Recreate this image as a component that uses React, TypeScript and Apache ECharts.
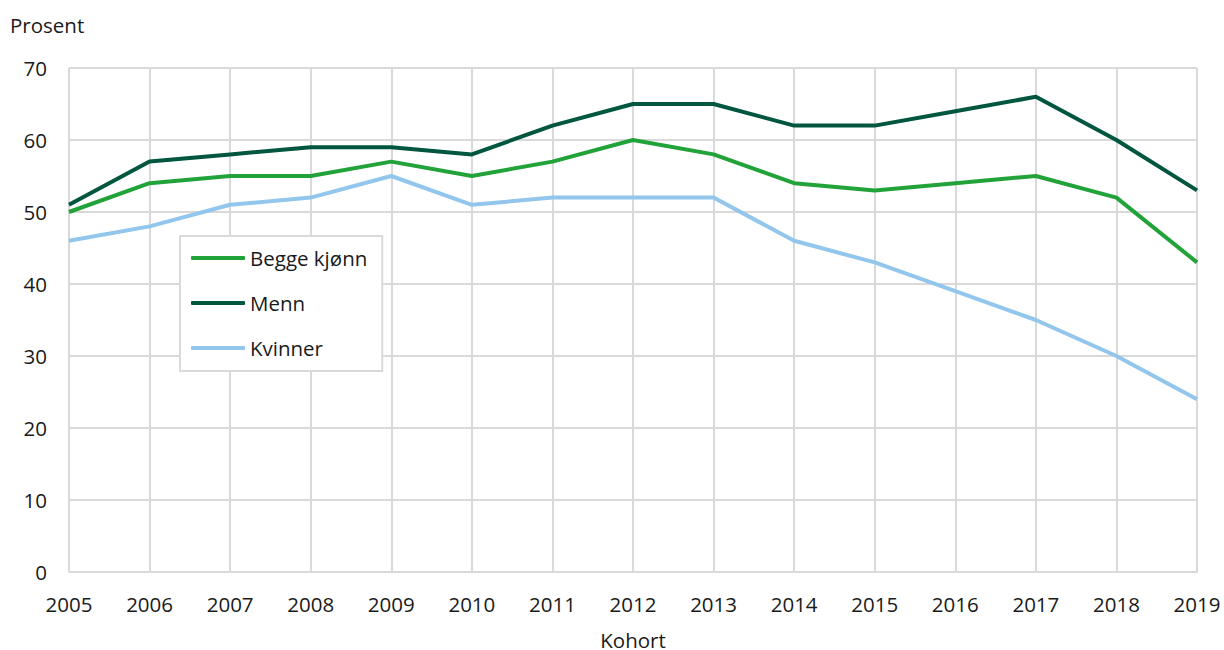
import React, { useEffect, useRef } from "react";
import * as echarts from "echarts";

const categories = ["2005","2006","2007","2008","2009","2010","2011","2012","2013","2014","2015","2016","2017","2018","2019"];
const beggeKjonn = [50, 54, 55, 55, 57, 55, 57, 60, 58, 54, 53, 54, 55, 52, 43];
const menn = [51, 57, 58, 59, 59, 58, 62, 65, 65, 62, 62, 64, 66, 60, 53];
const kvinner = [46, 48, 51, 52, 55, 51, 52, 52, 52, 46, 43, 39, 35, 30, 24];

const FONT = "'Open Sans', sans-serif";
const TEXT = "#1a1a1a";
const GRID = "#d9d9d9";
const FS = 20.5;

export default function App() {
  const ref = useRef<HTMLDivElement>(null);
  useEffect(() => {
    if (!ref.current) return;
    const chart = echarts.init(ref.current, undefined, { renderer: "svg" });
    const mk = (name: string, data: number[], color: string) => ({
      name,
      type: "line",
      data,
      symbol: "none",
      lineStyle: { color, width: 4 },
      itemStyle: { color },
    });
    chart.setOption({
      animation: false,
      textStyle: { fontFamily: FONT },
      title: {
        text: "Prosent",
        left: 10,
        top: 14,
        padding: 0,
        textStyle: { fontFamily: FONT, fontSize: FS, fontWeight: "normal", color: TEXT },
      },
      grid: { left: 69, width: 1128, top: 68, height: 504, containLabel: false, outerBoundsMode: "none" },
      legend: {
        orient: "vertical",
        left: 180,
        top: 236,
        padding: [11, 15, 12, 11],
        icon: "roundRect",
        itemWidth: 54,
        itemHeight: 4,
        itemGap: 23,
        itemTextGap: 5,
        borderColor: GRID,
        borderWidth: 2,
        backgroundColor: "#fff",
        textStyle: { fontFamily: FONT, fontSize: FS, color: TEXT, lineHeight: 22 },
        data: ["Begge kjønn", "Menn", "Kvinner"],
      },
      xAxis: {
        type: "category",
        data: categories,
        boundaryGap: false,
        name: "Kohort",
        nameLocation: "middle",
        nameGap: 59,
        nameTextStyle: { fontFamily: FONT, fontSize: FS, color: TEXT, lineHeight: 18 },
        axisLine: { show: true, lineStyle: { color: GRID, width: 2 } },
        axisTick: { show: false },
        axisLabel: { fontFamily: FONT, fontSize: FS, color: TEXT, margin: 21 },
        splitLine: { show: true, lineStyle: { color: GRID, width: 2 } },
      },
      yAxis: {
        type: "value",
        min: 0,
        max: 70,
        interval: 10,
        axisLine: { show: false },
        axisTick: { show: false },
        axisLabel: { fontFamily: FONT, fontSize: FS, color: TEXT, margin: 22 },
        splitLine: { show: true, lineStyle: { color: GRID, width: 2 } },
      },
      series: [
        mk("Begge kjønn", beggeKjonn, "#22a33a"),
        mk("Menn", menn, "#00563e"),
        mk("Kvinner", kvinner, "#93c6ec"),
      ],
    });
    return () => chart.dispose();
  }, []);
  return <div ref={ref} style={{ width: 1224, height: 650, position: "absolute", left: 0, top: 0 }} />;
}
